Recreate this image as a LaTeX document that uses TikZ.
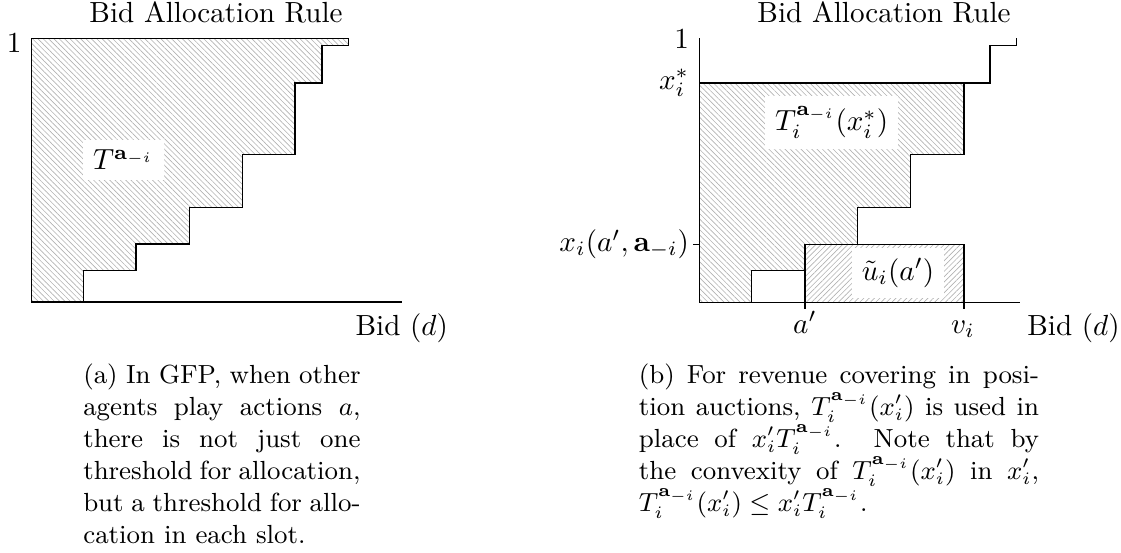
\documentclass[tikz,border=0pt]{standalone}
\usetikzlibrary{patterns.meta}
\tikzset{
  hatchNW/.style={pattern={Lines[angle=-45,distance=1.3pt,line width=0.22pt]},pattern color=gray!60},
  hatchNE/.style={pattern={Lines[angle=45,distance=1.3pt,line width=0.22pt]},pattern color=gray!60},
  axisline/.style={line width=0.4pt,black},
  lbl/.style={fill=white,inner sep=3.5pt},
  ticklbl/.style={inner sep=3.33pt},
  caption/.style={inner sep=0pt,anchor=base west,font=\small},
}
\begin{document}
\begin{tikzpicture}[x=0.3436pt,y=-0.3436pt]
\path[use as bounding box] (0,0) rectangle (1121,552);
% ---------------- left panel ----------------
\coordinate (LO) at (31.7,302);
\coordinate (LX) at (401.7,302);
\coordinate (LT) at (31.7,38.3);
\fill[hatchNW] (LO) -- (83.3,302) -- (83.3,270.7) -- (136,270.7) -- (136,244) -- (189.7,244) -- (189.7,207.3) -- (242.3,207.3) -- (242.3,154.7) -- (295,154.7) -- (295,83) -- (322,83) -- (322,45.3) -- (348.3,45.3) -- (348.3,38.3) -- (LT) -- cycle;
\node[lbl] (Tl) at (123.3,160) {$T^{\mathbf{a}_{-i}}$};
\draw[axisline] (LX) -- (LO) -- (LT) -- (348.3,38.3) -- (348.3,45.3) -- (322,45.3) -- (322,83) -- (295,83) -- (295,154.7) -- (242.3,154.7) -- (242.3,207.3) -- (189.7,207.3) -- (189.7,244) -- (136,244) -- (136,270.7) -- (83.3,270.7) -- (83.3,302);
\node[anchor=base] (titleL) at (216,22.7) {Bid Allocation Rule};
\node[anchor=east,ticklbl] (oneL) at (31.7,43) {1};
\node[anchor=base west,inner sep=0pt] (bidL) at (355,335) {Bid ($d$)};
% ---------------- right panel ----------------
\coordinate (RO) at (699.3,302.3);
\coordinate (RX) at (1020,302.3);
\coordinate (RT) at (699.3,38.3);
\coordinate (Rs) at (699.3,83);
\coordinate (Rx) at (699.3,244.3);
\coordinate (Ra) at (805,302.3);
\coordinate (Rv) at (964,302.3);
\fill[hatchNW] (RO) -- (751.7,302.3) -- (751.7,270.7) -- (805,270.7) -- (805,244.3) -- (857.7,244.3) -- (857.7,207.3) -- (910.7,207.3) -- (910.7,154.3) -- (964,154.3) -- (964,83) -- (Rs) -- cycle;
\fill[hatchNE] (Ra) rectangle (964,244.3);
\node[lbl] (Tr) at (831.7,122.5) {$T_i^{\mathbf{a}_{-i}}(x_i^*)$};
\node[lbl] (ur) at (898,273) {$\tilde{u}_i(a')$};
\draw[axisline] (RT) -- (RO) -- (RX);
\draw[axisline] (RO) -- (751.7,302.3) -- (751.7,270.7) -- (805,270.7) -- (805,244.3) -- (857.7,244.3) -- (857.7,207.3) -- (910.7,207.3) -- (910.7,154.3) -- (964,154.3) -- (964,83) -- (990,83) -- (990,45.7) -- (1016.7,45.7) -- (1016.7,38.3);
\draw[axisline] (Rs) -- (964,83);
\draw[axisline] (Ra) rectangle (964,244.3);
\draw[axisline] (Rx) -- ++(-6,0);
\draw[axisline] (Ra) -- ++(0,7);
\draw[axisline] (Rv) -- ++(0,7);
\node[anchor=base] (titleR) at (884,22.7) {Bid Allocation Rule};
\node[anchor=east,ticklbl] (oneR) at (RT) {1};
\node[anchor=east,ticklbl] (xs) at (Rs) {$x_i^*$};
\node[anchor=east,ticklbl] (xa) at (Rx) {$x_i(a',\mathbf{a}_{-i})$};
\node[anchor=base] (al) at (805,333) {$a'$};
\node[anchor=base] (vl) at (963,333) {$v_i$};
\node[anchor=base west,inner sep=0pt] (bidR) at (1026.7,335) {Bid ($d$)};
% ---------------- captions ----------------
\node[caption] (capA) at (82.7,383.5) {\parbox[t]{95.3pt}{\tolerance=10000\emergencystretch=20pt\hyphenpenalty=10000
(a) In GFP, when other\linebreak agents play actions $a$,\linebreak there is not just one\linebreak threshold for allocation,\linebreak but a threshold for allo-\linebreak cation in each slot.}};
\node[caption] (capB) at (638.3,383.5) {\parbox[t]{137.5pt}{\tolerance=10000\emergencystretch=20pt\hyphenpenalty=10000
(b) For revenue covering in posi-\linebreak tion auctions, $T_i^{\mathbf{a}_{-i}}(x_i')$ is used in\linebreak place of $x_i'T_i^{\mathbf{a}_{-i}}$. Note that by\linebreak the convexity of $T_i^{\mathbf{a}_{-i}}(x_i')$ in $x_i'$,\linebreak $T_i^{\mathbf{a}_{-i}}(x_i')\le x_i'T_i^{\mathbf{a}_{-i}}$.}};
\end{tikzpicture}
\end{document}
